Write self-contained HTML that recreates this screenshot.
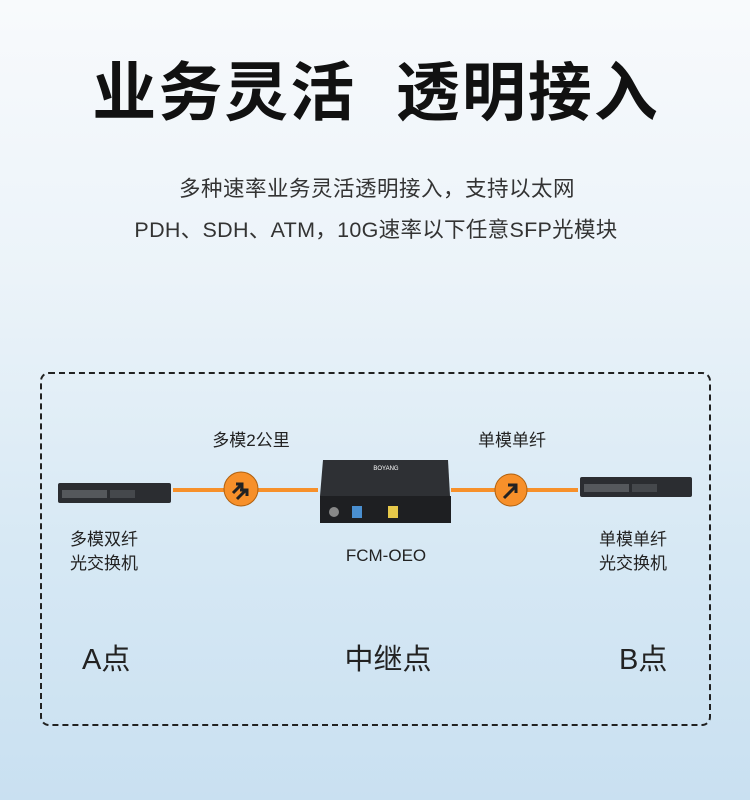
<!DOCTYPE html>
<html><head><meta charset="utf-8"><style>
body{margin:0}
#p{position:relative;width:750px;height:800px;overflow:hidden;background:linear-gradient(180deg,#f8fafc 0%,#ebf3f9 35%,#d6e8f4 70%,#c9e0f1 100%);font-family:"Liberation Sans","Noto Sans CJK SC",sans-serif;color:#222}
.t{position:absolute;white-space:nowrap}
.c{transform:translateX(-50%)}
</style></head><body><div id="p">
<div class="t c" style="left:376px;top:42px;font-size:64px;font-weight:bold;color:#111;letter-spacing:2px">业务灵活&nbsp;&nbsp;透明接入</div>
<div class="t c" style="left:377px;top:172px;font-size:21.5px;color:#333;letter-spacing:0.5px">多种速率业务灵活透明接入，支持以太网</div>
<div class="t c" style="left:376px;top:213px;font-size:21.5px;color:#333;letter-spacing:0.3px">PDH、SDH、ATM，10G速率以下任意SFP光模块</div>
<div style="position:absolute;left:40px;top:372px;width:667px;height:350px;border:2px dashed #222;border-radius:9px"></div>
<svg width="750" height="800" style="position:absolute;left:0;top:0">
<line x1="173" y1="490" x2="318" y2="490" stroke="#f7902a" stroke-width="4"/>
<line x1="451" y1="490" x2="578" y2="490" stroke="#f7902a" stroke-width="4"/>
<circle cx="241" cy="489" r="17" fill="#f7902a" stroke="#b0600e" stroke-width="1"/>
<path d="M233 493 l8 -8 M236 484 l6 0 0 6" stroke="#222" stroke-width="3" fill="none"/>
<path d="M237 499 l9 -9 M240 490 l7 0 0 6" stroke="#222" stroke-width="3" fill="none"/>
<circle cx="511" cy="490" r="16" fill="#f7902a" stroke="#b0600e" stroke-width="1"/>
<path d="M504 498 l11 -11 M508 485 l8 0 0 8" stroke="#222" stroke-width="3" fill="none"/>
<rect x="58" y="483" width="113" height="20" rx="2" fill="#2b2d31"/>
<rect x="62" y="490" width="45" height="8" fill="#55585c"/>
<rect x="110" y="490" width="25" height="8" fill="#45484c"/>
<rect x="580" y="477" width="112" height="20" rx="2" fill="#2b2d31"/>
<rect x="584" y="484" width="45" height="8" fill="#55585c"/>
<rect x="632" y="484" width="25" height="8" fill="#45484c"/>
<polygon points="323,460 448,460 450,496 320,496" fill="#2e3034"/>
<rect x="320" y="496" width="131" height="27" fill="#1e1f22"/>
<text x="386" y="470" font-size="6" fill="#fff" text-anchor="middle" font-family="Liberation Sans">BOYANG</text>
<circle cx="334" cy="512" r="5" fill="#888"/>
<rect x="352" y="506" width="10" height="12" fill="#4a8fd0"/>
<rect x="388" y="506" width="10" height="12" fill="#e6c84a"/>
</svg>
<div class="t c" style="left:251px;top:426px;font-size:17px">多模2公里</div>
<div class="t c" style="left:512px;top:426px;font-size:17px">单模单纤</div>
<div class="t" style="left:70px;top:528px;font-size:17px;line-height:24px">多模双纤<br>光交换机</div>
<div class="t c" style="left:386px;top:546px;font-size:17px">FCM-OEO</div>
<div class="t" style="left:599px;top:528px;font-size:17px;line-height:24px">单模单纤<br>光交换机</div>
<div class="t" style="left:82px;top:636px;font-size:29px">A点</div>
<div class="t c" style="left:388px;top:636px;font-size:29px">中继点</div>
<div class="t" style="left:619px;top:636px;font-size:29px">B点</div>
</div></body></html>
